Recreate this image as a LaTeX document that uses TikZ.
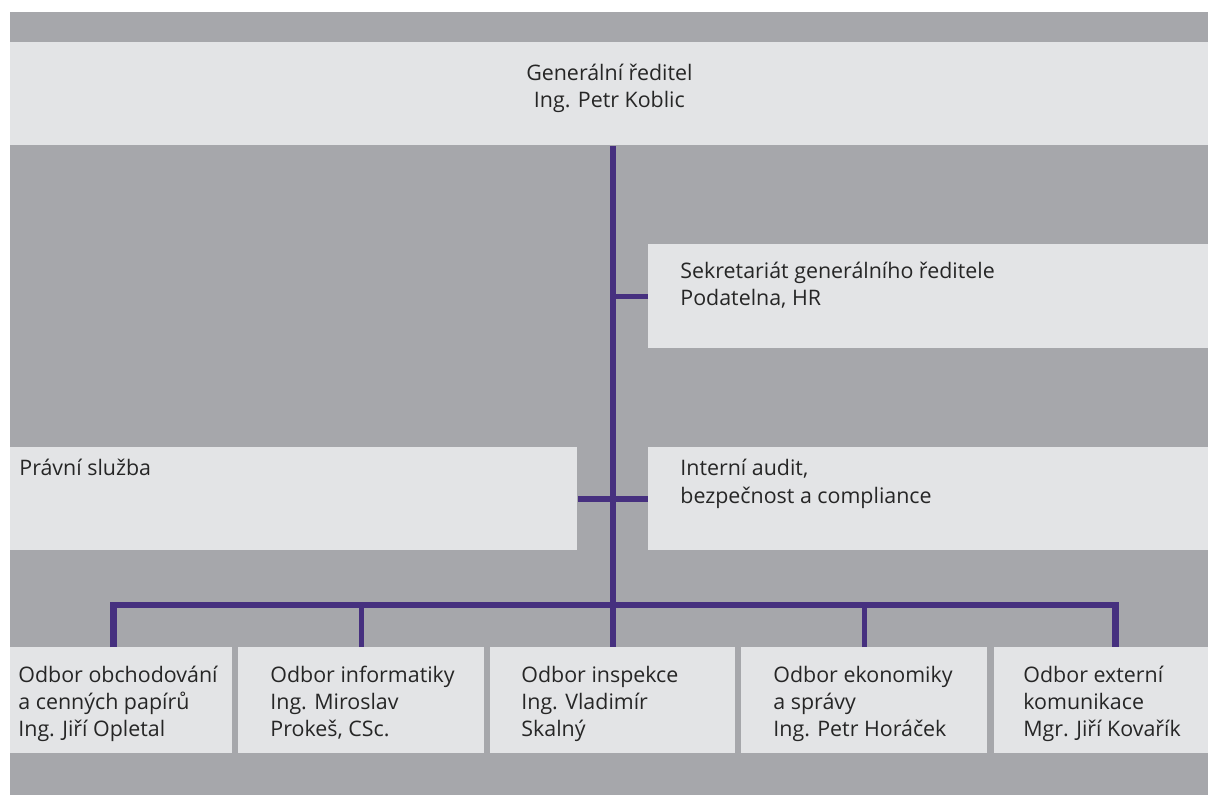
\documentclass[tikz,border=0pt]{standalone}
\usepackage{fontspec}
\setmainfont{Open Sans}
\usetikzlibrary{positioning}
\definecolor{bggray}{HTML}{A6A7AB}
\definecolor{boxgray}{HTML}{E3E4E6}
\definecolor{linepurple}{HTML}{46307F}
\definecolor{textgray}{HTML}{262626}

\begin{document}
\begin{tikzpicture}[x=0.5pt, y=-0.5pt,
    box/.style={rectangle, fill=boxgray, inner sep=0pt, anchor=north west,
                minimum height=52pt},
    txt/.style={inner sep=0pt, align=left, text=textgray, anchor=base west,
                font=\fontsize{10.7}{13.5}\selectfont},
    link/.style={draw=linepurple, line width=2.8pt},
    bus/.style={link, line width=3.4pt},
  ]
  % background
  \useasboundingbox (0,0) rectangle (1208,795);
  \fill[bggray] (10,12) rectangle (1208,795);

  % boxes
  \node[box, minimum width=599pt, minimum height=51.5pt] (top) at (10,42) {};
  \node[box, minimum width=280pt] (sek) at (648,244) {};
  \node[box, minimum width=283.5pt, minimum height=51.5pt] (prav) at (10,447) {};
  \node[box, minimum width=280pt, minimum height=51.5pt] (int) at (648,447) {};
  \node[box, minimum width=111pt, minimum height=53pt] (b1) at (10,647) {};
  \node[box, minimum width=123pt, minimum height=53pt] (b2) at (238,647) {};
  \node[box, minimum width=122.5pt, minimum height=53pt] (b3) at (490,647) {};
  \node[box, minimum width=123pt, minimum height=53pt] (b4) at (741,647) {};
  \node[box, minimum width=107pt, minimum height=53pt] (b5) at (994,647) {};

  % texts (base = last line)
  \node[txt, align=center, anchor=base] (top-t) at ([yshift=-33pt]top.north)
    {Generální ředitel\\Ing. Petr Koblic};
  \node[txt] (sek-t) at ([shift={(32,62)}]sek.north west)
    {Sekretariát generálního ředitele\\Podatelna, HR};
  \node[txt] (prav-t) at ([shift={(9,29)}]prav.north west)
    {Právní služba};
  \node[txt] (int-t) at ([shift={(32,56)}]int.north west)
    {Interní audit,\\bezpečnost a compliance};
  \node[txt] (b1-t) at ([shift={(8,89)}]b1.north west)
    {Odbor obchodování\\a cenných papírů\\Ing. Jiří Opletal};
  \node[txt] (b2-t) at ([shift={(32,89)}]b2.north west)
    {Odbor informatiky\\Ing. Miroslav\\Prokeš, CSc.};
  \node[txt] (b3-t) at ([shift={(31,89)}]b3.north west)
    {Odbor inspekce\\Ing. Vladimír\\Skalný};
  \node[txt] (b4-t) at ([shift={(32,89)}]b4.north west)
    {Odbor ekonomiky\\a správy\\Ing. Petr Horáček};
  \node[txt] (b5-t) at ([shift={(29,89)}]b5.north west)
    {Odbor externí\\komunikace\\Mgr. Jiří Kovařík};

  % connectors
  \coordinate (busy) at (0,605);
  \draw[link] (top.south -| b3.north) -- (b3.north);
  \draw[link] (sek.west) -- (sek.west -| b3.north);
  \draw[link] (prav.east) -- (int.west);
  \draw[bus] ([xshift=-4pt]b1.north) -- ([xshift=-4pt]b1.north |- busy)
    -- ([xshift=7pt]b5.north |- busy) -- ([xshift=7pt]b5.north);
  \foreach \b in {b2,b4}
    \draw[link] (\b.north) -- (\b.north |- busy);
\end{tikzpicture}
\end{document}
